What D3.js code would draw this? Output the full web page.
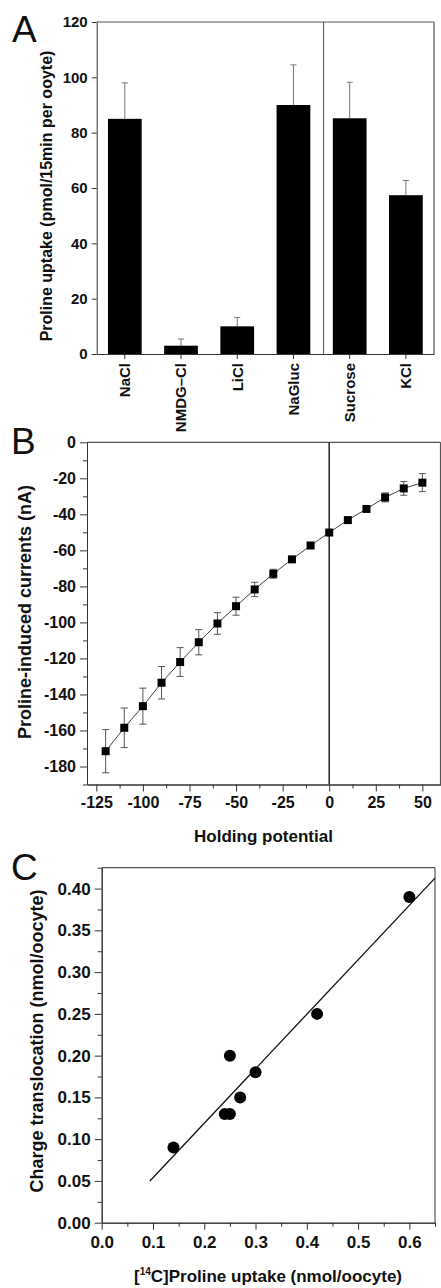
<!DOCTYPE html>
<html>
<head>
<meta charset="utf-8">
<script src="https://cdn.jsdelivr.net/npm/d3@7"></script>
<style>
  body { margin: 0; background: #fff; }
  svg { display: block; font-family: "Liberation Sans", Arial, sans-serif; }
  .axis path, .axis line { stroke: #333; }
  .lab { font-weight: bold; fill: #111; }
  .letter { font-size: 37px; fill: #111; }
</style>
</head>
<body>
<svg width="441" height="1288"></svg>
<script>
// ---- panel A: proline uptake in different buffers
var salts = ["NaCl", "NMDG–Cl", "LiCl", "NaGluc", "Sucrose", "KCl"];
var uptake = [85, 3, 10, 90, 85.2, 57.4];
var uptakeErr = [13, 2.4, 3.2, 14.5, 13, 5.3];
var uptakeTicks = [0, 20, 40, 60, 80, 100, 120];

// ---- panel B: I-V relation
var potential = [-120, -110, -100, -90, -80, -70, -60, -50, -40, -30, -20, -10, 0, 10, 20, 30, 40, 50];
var current = [-171.5, -158.5, -146.5, -133.5, -122, -111, -100.6, -91, -81.7, -73, -65, -57.3, -50.1, -43.2, -37, -30.6, -25.6, -22.4];
var currentErr = [12, 11, 10, 9, 8, 7, 6, 5, 4, 2.5, 1.5, 1, 1, 1, 1, 2.5, 3.8, 5];
var potTicks = [-125, -100, -75, -50, -25, 0, 25, 50];
var potMinor = [-112.5, -87.5, -62.5, -37.5, -12.5, 12.5, 37.5];
var curTicks = [-180, -160, -140, -120, -100, -80, -60, -40, -20, 0];
var curMinor = [-190, -170, -150, -130, -110, -90, -70, -50, -30, -10];

// ---- panel C: charge vs uptake
var prolineUptake = [0.14, 0.24, 0.25, 0.25, 0.27, 0.30, 0.42, 0.60];
var chargeMoved = [0.09, 0.13, 0.13, 0.20, 0.15, 0.18, 0.25, 0.39];
var fitSlope = 0.652, fitIntercept = -0.0113, fitFrom = 0.094, fitTo = 0.65;
var uptTicks = [0, 0.1, 0.2, 0.3, 0.4, 0.5, 0.6];
var uptMinor = [0.05, 0.15, 0.25, 0.35, 0.45, 0.55, 0.65];
var chgTicks = [0, 0.05, 0.1, 0.15, 0.2, 0.25, 0.3, 0.35, 0.4];
var chgMinor = [0.025, 0.075, 0.125, 0.175, 0.225, 0.275, 0.325, 0.375, 0.425];

var svg = d3.select("svg");
var FONT = '"Liberation Sans", Arial, sans-serif';

function frame(g, x0, x1, y0, y1) {
    g.append("line").attr("x1", x0).attr("x2", x1).attr("y1", y0).attr("y2", y0)
        .attr("stroke", "#555").attr("stroke-width", 1.2);
    g.append("line").attr("x1", x1).attr("x2", x1).attr("y1", y0).attr("y2", y1)
        .attr("stroke", "#555").attr("stroke-width", 1.2);
}

function tickText(size) {
    return function(g) {
        g.selectAll("text").style("font-family", FONT).style("font-weight", "bold")
            .style("font-size", size + "px").attr("fill", "#111");
    };
}

// ================= A
var gA = svg.append("g");
var xA = d3.scaleBand().domain(salts).range([96.7, 434]).paddingInner(0.4).paddingOuter(0.2);
var yA = d3.scaleLinear().domain([0, 120]).range([354, 22]);

frame(gA, 96.7, 434, 22, 354);
// divider between Na-containing and other buffers
var divX = (xA("NaGluc") + xA.bandwidth() + xA("Sucrose")) / 2 + 2;
gA.append("line").attr("x1", divX).attr("x2", divX).attr("y1", 22).attr("y2", 354)
    .attr("stroke", "#666").attr("stroke-width", 1.2);

gA.selectAll("line.err").data(salts).join("line").attr("class", "err")
    .attr("x1", d => xA(d) + xA.bandwidth() / 2).attr("x2", d => xA(d) + xA.bandwidth() / 2)
    .attr("y1", (d, i) => yA(uptake[i])).attr("y2", (d, i) => yA(uptake[i] + uptakeErr[i]))
    .attr("stroke", "#777").attr("stroke-width", 1);
gA.selectAll("line.cap").data(salts).join("line").attr("class", "cap")
    .attr("x1", d => xA(d) + xA.bandwidth() / 2 - 3).attr("x2", d => xA(d) + xA.bandwidth() / 2 + 3)
    .attr("y1", (d, i) => yA(uptake[i] + uptakeErr[i])).attr("y2", (d, i) => yA(uptake[i] + uptakeErr[i]))
    .attr("stroke", "#777").attr("stroke-width", 1);
gA.selectAll("rect").data(salts).join("rect")
    .attr("x", d => xA(d)).attr("width", xA.bandwidth())
    .attr("y", (d, i) => yA(uptake[i])).attr("height", (d, i) => yA(0) - yA(uptake[i]))
    .attr("fill", "#000");

gA.append("g").attr("class", "axis").attr("transform", "translate(96.7,0)")
    .call(d3.axisLeft(yA).tickValues(uptakeTicks).tickSize(5).tickSizeOuter(0).tickPadding(4))
    .call(tickText(15));
gA.append("g").attr("class", "axis").attr("transform", "translate(0,354)")
    .call(d3.axisBottom(xA).tickSize(5).tickSizeOuter(0))
    .call(tickText(15))
    .call(g => g.selectAll("text")
        .attr("transform", "rotate(-90)").attr("x", -9).attr("y", 0).attr("dy", "0.36em")
        .style("text-anchor", "end"));
gA.append("text").attr("class", "lab").attr("transform", "translate(52,196) rotate(-90)")
    .attr("text-anchor", "middle").style("font-size", "16px")
    .text("Proline uptake (pmol/15min per ooyte)");
gA.append("text").attr("class", "letter").attr("x", 12).attr("y", 42).text("A");

// ================= B
var gB = svg.append("g");
var xB = d3.scaleLinear().domain([-130, 60]).range([87, 441]);
var yB = d3.scaleLinear().domain([-190, 0]).range([784.5, 442.3]);

frame(gB, 87, 440.5, 442.3, 784.5);
gB.append("line").attr("x1", xB(0)).attr("x2", xB(0)).attr("y1", yB(0)).attr("y2", yB(-190))
    .attr("stroke", "#222").attr("stroke-width", 1.5);

gB.append("g").attr("class", "axis").attr("transform", "translate(87,0)")
    .call(d3.axisLeft(yB).tickValues(curMinor).tickSize(4).tickSizeOuter(0).tickFormat(""));
gB.append("g").attr("class", "axis").attr("transform", "translate(87,0)")
    .call(d3.axisLeft(yB).tickValues(curTicks).tickSize(7).tickSizeOuter(0).tickPadding(4).tickFormat(d => String(d)))
    .call(tickText(16));
gB.append("g").attr("class", "axis").attr("transform", "translate(0,784.5)")
    .call(d3.axisBottom(xB).tickValues(potMinor).tickSize(4).tickSizeOuter(0).tickFormat(""));
gB.append("g").attr("class", "axis").attr("transform", "translate(0,784.5)")
    .call(d3.axisBottom(xB).tickValues(potTicks).tickSize(7).tickSizeOuter(0).tickPadding(5).tickFormat(d => String(d)))
    .call(tickText(16));

gB.append("path").datum(potential)
    .attr("d", d3.line().x(d => xB(d)).y((d, i) => yB(current[i])))
    .attr("fill", "none").attr("stroke", "#444").attr("stroke-width", 1);
var eb = gB.selectAll("g.eb").data(potential).join("g").attr("class", "eb");
eb.append("line").attr("x1", d => xB(d)).attr("x2", d => xB(d))
    .attr("y1", (d, i) => yB(current[i] - currentErr[i])).attr("y2", (d, i) => yB(current[i] + currentErr[i]))
    .attr("stroke", "#555").attr("stroke-width", 1);
eb.append("line").attr("x1", d => xB(d) - 3.5).attr("x2", d => xB(d) + 3.5)
    .attr("y1", (d, i) => yB(current[i] + currentErr[i])).attr("y2", (d, i) => yB(current[i] + currentErr[i]))
    .attr("stroke", "#555").attr("stroke-width", 1);
eb.append("line").attr("x1", d => xB(d) - 3.5).attr("x2", d => xB(d) + 3.5)
    .attr("y1", (d, i) => yB(current[i] - currentErr[i])).attr("y2", (d, i) => yB(current[i] - currentErr[i]))
    .attr("stroke", "#555").attr("stroke-width", 1);
eb.append("rect").attr("x", d => xB(d) - 4).attr("y", (d, i) => yB(current[i]) - 4)
    .attr("width", 8).attr("height", 8).attr("fill", "#000");

gB.append("text").attr("class", "lab").attr("transform", "translate(31,612) rotate(-90)")
    .attr("text-anchor", "middle").style("font-size", "18px")
    .text("Proline-induced currents (nA)");
gB.append("text").attr("class", "lab").attr("x", 263.5).attr("y", 842)
    .attr("text-anchor", "middle").style("font-size", "17px").text("Holding potential");
gB.append("text").attr("class", "letter").attr("x", 11).attr("y", 454).text("B");

// ================= C
var gC = svg.append("g");
var xC = d3.scaleLinear().domain([0, 0.65]).range([101.7, 435]);
var yC = d3.scaleLinear().domain([0, 0.425]).range([1222.7, 867.7]);

frame(gC, 101.7, 435, 867.7, 1222.7);
gC.append("g").attr("class", "axis").attr("transform", "translate(101.7,0)")
    .call(d3.axisLeft(yC).tickValues(chgMinor).tickSize(4).tickSizeOuter(0).tickFormat(""));
gC.append("g").attr("class", "axis").attr("transform", "translate(101.7,0)")
    .call(d3.axisLeft(yC).tickValues(chgTicks).tickSize(7).tickSizeOuter(0).tickPadding(4).tickFormat(d3.format(".2f")))
    .call(tickText(17));
gC.append("g").attr("class", "axis").attr("transform", "translate(0,1222.7)")
    .call(d3.axisBottom(xC).tickValues(uptMinor).tickSize(4).tickSizeOuter(0).tickFormat(""));
gC.append("g").attr("class", "axis").attr("transform", "translate(0,1222.7)")
    .call(d3.axisBottom(xC).tickValues(uptTicks).tickSize(7).tickSizeOuter(0).tickPadding(6).tickFormat(d3.format(".1f")))
    .call(tickText(17));

gC.append("line")
    .attr("x1", xC(fitFrom)).attr("y1", yC(fitSlope * fitFrom + fitIntercept))
    .attr("x2", xC(fitTo)).attr("y2", yC(fitSlope * fitTo + fitIntercept))
    .attr("stroke", "#111").attr("stroke-width", 1.3);
gC.selectAll("circle").data(prolineUptake).join("circle")
    .attr("cx", d => xC(d)).attr("cy", (d, i) => yC(chargeMoved[i])).attr("r", 6)
    .attr("fill", "#000");

gC.append("text").attr("class", "lab").attr("transform", "translate(43,1041) rotate(-90)")
    .attr("text-anchor", "middle").style("font-size", "18px")
    .text("Charge translocation (nmol/oocyte)");
var xl = gC.append("text").attr("class", "lab").attr("x", 268).attr("y", 1282)
    .attr("text-anchor", "middle").style("font-size", "17px");
xl.append("tspan").text("[");
xl.append("tspan").attr("dy", -7).style("font-size", "10px").text("14");
xl.append("tspan").attr("dy", 7).text("C]Proline uptake (nmol/oocyte)");
gC.append("text").attr("class", "letter").attr("x", 11).attr("y", 880).text("C");
</script>
</body>
</html>
